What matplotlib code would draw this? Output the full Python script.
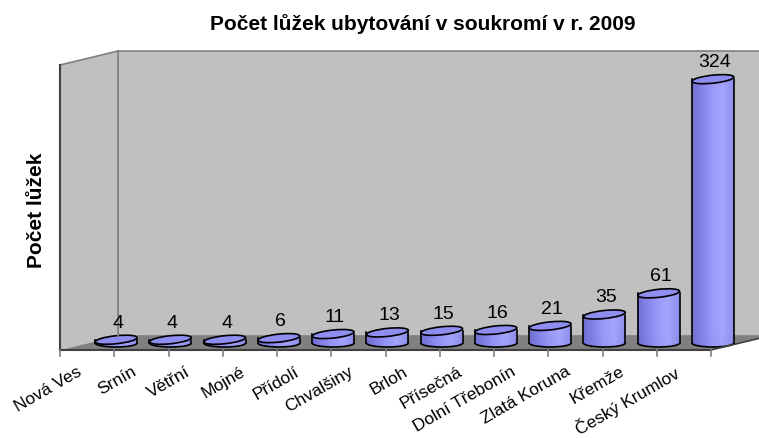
import numpy as np
import matplotlib
matplotlib.use('Agg')
from matplotlib import pyplot as plt, patches
import matplotlib.transforms as mtransforms
from matplotlib.colors import LinearSegmentedColormap

plt.rcParams['font.family'] = ['Liberation Sans', 'DejaVu Sans']

mista = ['Nová Ves', 'Srnín', 'Větřní', 'Mojné', 'Přídolí', 'Chvalšiny', 'Brloh',
         'Přísečná', 'Dolní Třebonín', 'Zlatá Koruna', 'Křemže', 'Český Krumlov']
luzka = [4, 4, 4, 6, 11, 13, 15, 16, 21, 35, 61, 324]
ymax = 350
titulek = 'Počet lůžek ubytování v soukromí v r. 2009'
popisek_y = 'Počet lůžek'

W, H = 759, 439
fig = plt.figure(figsize=(W / 100, H / 100), dpi=100)
ax = fig.add_axes([60 / W, 88 / H, 651 / W, 285 / H])
ax.set_xlim(0, len(mista))
ax.set_ylim(0, ymax)
ax.axis('off')

ident = mtransforms.IdentityTransform()
D = np.array([58.0, 14.0])  # hloubka v pixelech


def px(x, y):
    return ax.transData.transform((x, y))


def poly(pts, **kw):
    p = patches.Polygon(pts, closed=True, transform=ident, clip_on=False, **kw)
    ax.add_patch(p)


def line(a, b, **kw):
    ax.add_line(plt.Line2D([a[0], b[0]], [a[1], b[1]], transform=ident, clip_on=False, **kw))


n = len(mista)
f0, f1 = px(0, 0), px(n, 0)
t0, t1 = px(0, ymax), px(n, ymax)

# steny a podlaha
poly([f0 + D, f1 + D, t1 + D, t0 + D], fc='#C0C0C0', ec='#808080', lw=1.2)
poly([f0, t0, t0 + D, f0 + D], fc='#C0C0C0', ec='none')
poly([f0, f1, f1 + D, f0 + D], fc='#808080', ec='none')
line(t0, t0 + D, color='#808080', lw=1.2)
line(f0 + D, t0 + D, color='#808080', lw=1.2)
line(f1, f1 + D, color='#404040', lw=1.2)
line(f0, f1, color='#404040', lw=1.5)
line(f0, t0, color='#404040', lw=1.5)

for i in range(n + 1):
    p = px(i, 0)
    line(p, p - [0, 6], color='#808080', lw=1.2)

cmap = LinearSegmentedColormap.from_list('valec', ['#6E6ED4', '#8383EA', '#9898FD', '#A4A4FF', '#8E8EF0'])
w = 42.0
eh = 8.0
for i, (jm, v) in enumerate(zip(mista, luzka)):
    bx, by = px(i + 0.5, 0) + D / 2
    ty = (px(i + 0.5, v) + D / 2)[1]
    xs = np.linspace(bx - w / 2, bx + w / 2, 25)
    ybot = by - eh / 2 * np.sqrt(np.clip(1 - ((xs - bx) / (w / 2)) ** 2, 0, 1))
    for k in range(len(xs) - 1):
        c = cmap(k / (len(xs) - 2))
        poly([(xs[k], ybot[k]), (xs[k + 1], ybot[k + 1]), (xs[k + 1], ty), (xs[k], ty)],
             fc=c, ec=c, lw=0.3)
    line((bx - w / 2, by), (bx - w / 2, ty), color='black', lw=1.2)
    line((bx + w / 2, by), (bx + w / 2, ty), color='black', lw=1.2)
    ax.add_patch(patches.Arc((bx, by), w, eh, theta1=180, theta2=360, transform=ident,
                             clip_on=False, color='black', lw=1.2))
    ax.add_patch(patches.Ellipse((bx, ty), w, eh, angle=6, transform=ident, clip_on=False,
                                 fc='#8E8EF0', ec='black', lw=1.2))
    ax.text(bx + 2, ty + 9, str(v), transform=ident, ha='center', va='bottom', fontsize=14)
    lx, ly = px(i + 0.5, 0)
    ax.text(lx - 10, ly - 13, jm, transform=ident, ha='right', va='top', rotation=30,
            rotation_mode='anchor', fontsize=12.5)

fig.text(423 / W, 1 - 24 / H, titulek, ha='center', va='center', fontsize=15, fontweight='bold')
fig.text(36 / W, 1 - 210 / H, popisek_y, ha='center', va='center', rotation=90,
         fontsize=15, fontweight='bold')

fig.savefig('out.png', dpi=100)
